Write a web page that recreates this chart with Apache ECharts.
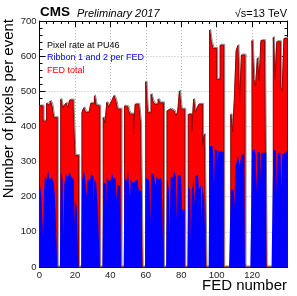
<!DOCTYPE html>
<html>
<head>
<meta charset="utf-8">
<script src="https://cdn.jsdelivr.net/npm/echarts@6/dist/echarts.min.js"></script>
<style>html,body{margin:0;padding:0;background:#fff}#c{width:297px;height:296px}</style>
</head>
<body>
<div id="c"></div>
<script>
// FED total (pixels per event) per FED number 0..139 (0 = no FED)
const fedTotal = [
  458,458,415,415,465,460,472,460,425,425,0,0,
  477,453,460,466,453,475,475,453,317,317,0,0,
  440,453,440,440,440,466,464,487,460,458,0,0,
  425,410,468,455,466,475,487,475,449,449,0,0,
  458,455,449,435,435,377,463,463,463,410,0,0,
  527,439,439,491,472,463,463,477,467,467,0,0,
  444,449,449,444,440,430,440,501,449,449,0,0,
  434,434,387,477,439,453,463,463,344,377,0,0,
  674,639,622,622,534,534,631,631,0,0,0,0,
  434,384,477,615,630,472,603,603,0,0,0,0,
  644,534,515,594,530,644,644,644,0,0,0,0,
  653,534,641,641,515,501,650,650
];
// Pixel rate at PU46 (follows the FED total outline in the picture)
const pixelRate = [
  458,458,415,415,465,460,472,460,425,425,0,0,
  477,453,460,466,453,475,475,453,317,317,0,0,
  440,453,440,440,440,466,464,487,460,458,0,0,
  425,410,468,455,466,475,487,475,449,449,0,0,
  458,455,449,435,435,377,463,463,463,410,0,0,
  527,439,439,491,472,463,463,477,467,467,0,0,
  444,449,449,444,440,430,440,501,449,449,0,0,
  434,434,387,477,439,453,463,463,344,377,0,0,
  674,639,622,622,534,534,631,631,0,0,0,0,
  434,384,477,615,630,472,603,603,0,0,0,0,
  644,534,515,594,530,644,644,644,0,0,0,0,
  653,534,641,641,515,501,650,650
];
// Ribbon 1 and ribbon 2 per FED
const ribbon1 = [
  244,205,87,258,250,272,249,258,240,165,0,0,
  272,249,235,263,255,272,255,250,191,170,0,0,
  244,272,238,244,250,263,258,250,240,163,0,0,
  238,238,258,244,244,267,249,249,235,230,0,0,
  253,244,272,200,244,238,245,249,220,215,0,0,
  253,250,244,267,263,258,258,249,253,240,0,0,
  249,220,255,258,272,258,260,263,245,163,0,0,
  230,220,220,258,258,263,220,234,234,191,0,0,
  344,344,325,335,330,330,330,325,0,0,0,0,
  220,220,172,282,317,287,320,320,0,0,0,0,
  330,335,320,327,325,325,325,325,0,0,0,0,
  334,330,210,325,320,320,325,330
];
const ribbon2 = [
  244,200,205,258,263,250,255,255,215,165,0,0,
  272,90,240,263,250,270,250,110,191,170,0,0,
  240,265,200,244,244,260,180,255,238,163,0,0,
  238,160,258,250,244,263,255,190,235,230,0,0,
  253,244,272,250,244,235,249,240,220,215,0,0,
  253,250,125,262,258,230,255,249,253,240,0,0,
  240,96,258,263,272,134,258,263,163,163,0,0,
  230,77,230,175,258,263,220,140,234,191,0,0,
  344,340,230,330,290,330,330,325,0,0,0,0,
  220,220,282,305,317,287,320,320,0,0,0,0,
  330,330,210,327,240,325,325,325,0,0,0,0,
  334,330,325,325,225,320,325,330
];
const xMin = 0, xMax = 140, xStep = 20;
const yMin = 0, yMax = 700, yStep = 100;

const nFed = fedTotal.length;
function histData(vals) {
  const d = vals.map((v, b) => [b, v]);
  d.push([nFed, vals[nFed - 1]]);
  return d;
}
function ribbonData(r1, r2) {
  const d = [];
  for (let b = 0; b < nFed; b++) { d.push([b, r1[b]]); d.push([b + 0.5, r2[b]]); }
  d.push([nFed, r2[nFed - 1]]);
  return d;
}

const FONT = 'Liberation Sans';
const chart = echarts.init(document.getElementById('c'), null, {renderer: 'canvas'});
const tickCommon = {show: true, inside: true, length: 6, lineStyle: {color: '#000', width: 1}};
const minorCommon = {show: true, splitNumber: 5, length: 3, lineStyle: {color: '#000', width: 1}};
chart.setOption({
  animation: false,
  backgroundColor: '#fff',
  grid: {left: 39.5, right: 9.5, top: 21, bottom: 29, containLabel: false},
  xAxis: [
    {type: 'value', min: xMin, max: xMax, interval: xStep, position: 'bottom',
     axisLine: {show: true, onZero: false, lineStyle: {color: '#000', width: 1}},
     axisTick: tickCommon, minorTick: minorCommon,
     axisLabel: {fontFamily: FONT, fontSize: 9.5, color: '#222', margin: 3,
       formatter: v => (v === xMax ? '' : String(v))},
     splitLine: {show: true, lineStyle: {color: '#b8b8b8', type: [1, 2], width: 1}}},
    {type: 'value', min: xMin, max: xMax, interval: xStep, position: 'top',
     axisLine: {show: true, onZero: false, lineStyle: {color: '#000', width: 1}},
     axisTick: tickCommon, minorTick: minorCommon,
     axisLabel: {show: false}, splitLine: {show: false}}
  ],
  yAxis: [
    {type: 'value', min: yMin, max: yMax, interval: yStep, position: 'left',
     axisLine: {show: true, onZero: false, lineStyle: {color: '#000', width: 1}},
     axisTick: tickCommon, minorTick: minorCommon,
     axisLabel: {fontFamily: FONT, fontSize: 9.5, color: '#222', margin: 3},
     splitLine: {show: true, lineStyle: {color: '#b8b8b8', type: [1, 2], width: 1}}},
    {type: 'value', min: yMin, max: yMax, interval: yStep, position: 'right',
     axisLine: {show: true, onZero: false, lineStyle: {color: '#000', width: 1}},
     axisTick: tickCommon, minorTick: minorCommon,
     axisLabel: {show: false}, splitLine: {show: false}}
  ],
  series: [
    {name: 'Pixel rate at PU46', type: 'line', step: 'end', xAxisIndex: 0, yAxisIndex: 0,
     data: histData(pixelRate), showSymbol: false, symbol: 'none', z: 1,
     lineStyle: {color: '#8a8a8a', width: 1, shadowColor: '#8a8a8a', shadowBlur: 0,
                 shadowOffsetX: 1, shadowOffsetY: -1}},
    {name: 'FED total', type: 'line', step: 'end', xAxisIndex: 0, yAxisIndex: 0,
     data: histData(fedTotal), showSymbol: false, symbol: 'none', z: 2,
     lineStyle: {color: '#990000', width: 1},
     areaStyle: {color: '#ff0000', opacity: 1}},
    {name: 'Ribbon 1 and 2 per FED', type: 'line', step: 'end', xAxisIndex: 0, yAxisIndex: 0,
     data: ribbonData(ribbon1, ribbon2), showSymbol: false, symbol: 'none', z: 3,
     lineStyle: {color: '#0000ff', width: 1, opacity: 0},
     areaStyle: {color: '#0000ff', opacity: 1}}
  ],
  graphic: [
    {type: 'text', x: 40, y: 19, z: 100, style: {text: 'CMS', fontFamily: FONT, fontWeight: 'bold', fontSize: 13.5, fill: '#000', textVerticalAlign: 'bottom'}},
    {type: 'text', x: 77, y: 19, z: 100, style: {text: 'Preliminary 2017', fontFamily: FONT, fontStyle: 'italic', fontSize: 11, fill: '#000', textVerticalAlign: 'bottom'}},
    {type: 'text', x: 287, y: 19, z: 100, style: {text: '\u221As=13 TeV', fontFamily: FONT, fontSize: 11, fill: '#000', textAlign: 'right', textVerticalAlign: 'bottom'}},
    {type: 'text', x: 47, y: 50, z: 100, style: {text: 'Pixel rate at PU46', fontFamily: FONT, fontSize: 9, fill: '#000', textVerticalAlign: 'bottom'}},
    {type: 'text', x: 47, y: 62.5, z: 100, style: {text: 'Ribbon 1 and 2 per FED', fontFamily: FONT, fontSize: 9, fill: '#0000ff', textVerticalAlign: 'bottom'}},
    {type: 'text', x: 47, y: 75, z: 100, style: {text: 'FED total', fontFamily: FONT, fontSize: 9, fill: '#ff0000', textVerticalAlign: 'bottom'}},
    {type: 'text', x: 287, y: 293, z: 100, style: {text: 'FED number', fontFamily: FONT, fontSize: 15, fill: '#000', textAlign: 'right', textVerticalAlign: 'bottom'}},
    {type: 'text', x: 9, y: 19, rotation: Math.PI / 2, z: 100, style: {text: 'Number of pixels per event', fontFamily: FONT, fontSize: 15, fill: '#000', textAlign: 'right', textVerticalAlign: 'middle'}}
  ]
});
</script>
</body>
</html>
